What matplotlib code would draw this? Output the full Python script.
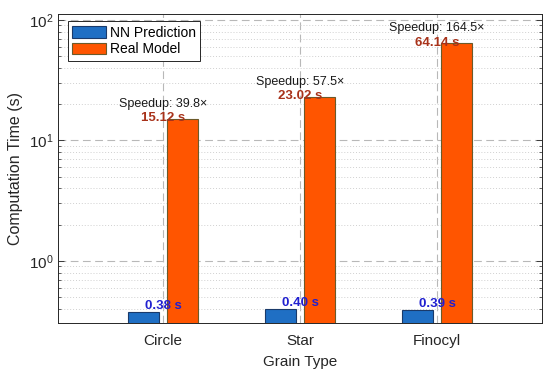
import numpy as np
import matplotlib
matplotlib.use("Agg")
import matplotlib.pyplot as plt
from matplotlib.ticker import LogLocator, NullFormatter

categories = ["Circle", "Star", "Finocyl"]
nn_times = [0.38, 0.40, 0.39]
real_times = [15.12, 23.02, 64.14]
speedups = [39.8, 57.5, 164.5]
series_names = ["NN Prediction", "Real Model"]

plt.rcParams['font.family'] = ['Liberation Sans', 'DejaVu Sans']

fig = plt.figure(figsize=(5.5, 3.76), dpi=100)
ax = fig.add_axes([58/550, 1-323.3/376, (542-58)/550, (323.3-14)/376])

x = np.arange(1, len(categories) + 1)
w = 0.225
off = 0.145
ax.bar(x - off, nn_times, w, color='#1f6fc4', edgecolor='#1a3a6a', linewidth=0.8,
       label=series_names[0], zorder=3)
ax.bar(x + off, real_times, w, color='#ff5500', edgecolor='#6b5a2a', linewidth=0.8,
       label=series_names[1], zorder=3)

ax.set_yscale('log')
ax.set_ylim(0.304, 112)
ax.set_xlim(0.234, 3.766)
ax.set_xticks(x)
ax.set_xticklabels(categories)

ax.yaxis.set_minor_locator(LogLocator(base=10, subs=np.arange(2, 10), numticks=20))
ax.yaxis.set_minor_formatter(NullFormatter())

ax.grid(True, which='major', axis='both', linestyle=(0, (7, 4)), color='#b8b8b8', linewidth=0.8, zorder=0)
ax.grid(True, which='minor', axis='y', linestyle=(0, (1, 2)), color='#d0d0d0', linewidth=0.7, zorder=0)

ax.tick_params(which='both', direction='in', right=True, top=False, colors='#262626', labelsize=11)
ax.tick_params(which='major', length=4, width=0.6)
ax.tick_params(which='minor', length=2, width=0.5)
ax.tick_params(axis='x', length=0, pad=8)
for s in ax.spines.values():
    s.set_color('#262626')
    s.set_linewidth(0.7)

ax.set_xlabel("Grain Type", fontsize=11, color='#262626', labelpad=5)
ax.set_ylabel("Computation Time (s)", fontsize=11.5, color='#262626', labelpad=4)

for xi, v in zip(x, nn_times):
    ax.annotate(f"{v:.2f} s", xy=(xi, v), xytext=(0, 0), textcoords='offset points',
                ha='center', va='bottom', fontsize=9.5, fontweight='bold', color='#2020d0', zorder=5)
for xi, v, sp in zip(x, real_times, speedups):
    ax.annotate(f"{v:.2f} s", xy=(xi, v), xytext=(0, -4), textcoords='offset points',
                ha='center', va='bottom', fontsize=9.5, fontweight='bold', color='#a8321a', zorder=5)
    ax.annotate(f"Speedup: {sp:.1f}×", xy=(xi, v), xytext=(0, 6.5), textcoords='offset points',
                ha='center', va='bottom', fontsize=9, color='#1a1a1a', zorder=5)

leg = ax.legend(loc='upper left', bbox_to_anchor=(0.015, 0.985), fontsize=10, frameon=True,
                fancybox=False, edgecolor='#262626', framealpha=1, borderpad=0.3,
                handlelength=2.4, handleheight=0.9, handletextpad=0.3, labelspacing=0.2,
                borderaxespad=0.2)
leg.get_frame().set_linewidth(0.7)

fig.savefig("out.png", dpi=100)
